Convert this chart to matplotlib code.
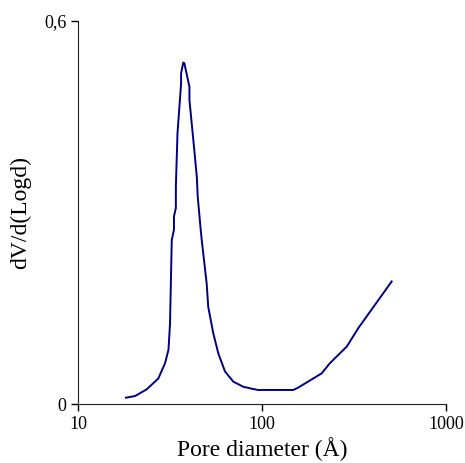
import matplotlib
matplotlib.use("Agg")
import matplotlib.pyplot as plt

# Distribuzione dei pori (dV/d(Logd) in funzione del diametro)
pore_diameter = [18.2, 20.4, 23.6, 27.3, 29.7, 31.0, 31.6, 32.3, 33.2, 33.2, 34.0,
                 34.0, 34.7, 36.3, 36.3, 37.3, 37.8, 40.3, 40.3, 42.3, 44.2, 44.7,
                 46.4, 47.0, 50.0, 51.0, 54.3, 57.9, 62.9, 69.8, 79.1, 86.1, 95.0,
                 148, 157, 211, 234, 289, 334, 507]
dv_dlogd = [0.0099, 0.0125, 0.023, 0.040, 0.064, 0.085, 0.126, 0.257, 0.273, 0.294,
            0.307, 0.341, 0.424, 0.502, 0.518, 0.535, 0.534, 0.497, 0.476, 0.414,
            0.356, 0.325, 0.273, 0.257, 0.189, 0.152, 0.111, 0.079, 0.051, 0.035,
            0.027, 0.0246, 0.022, 0.022, 0.0256, 0.048, 0.064, 0.090, 0.119, 0.192]

x_ticks = [10, 100, 1000]
x_labels = ["10", "100", "1000"]
y_ticks = [0, 0.6]
y_labels = ["0", "0,6"]

plt.rcParams["font.family"] = ["Liberation Serif", "DejaVu Serif"]

fig = plt.figure(figsize=(4.65, 4.63), dpi=100)
ax = fig.add_axes([0.168, 0.1274, 0.791, 0.8272])

ax.plot(pore_diameter, dv_dlogd, color="#000080", linewidth=1.4)

ax.set_xscale("log")
ax.set_xlim(10, 1000)
ax.set_ylim(0, 0.6)
ax.set_xticks(x_ticks)
ax.set_xticklabels(x_labels)
ax.minorticks_off()
ax.set_yticks(y_ticks)
ax.set_yticklabels(y_labels)
ax.tick_params(labelsize=13, length=5, width=1, direction="out")

ax.spines["top"].set_visible(False)
ax.spines["right"].set_visible(False)
ax.spines["left"].set_color("#222222")
ax.spines["bottom"].set_color("#222222")

ax.set_xlabel("Pore diameter (Å)", fontsize=17, labelpad=3)
ax.set_ylabel("dV/d(Logd)", fontsize=17, labelpad=9)

fig.savefig("out.png", dpi=100)
